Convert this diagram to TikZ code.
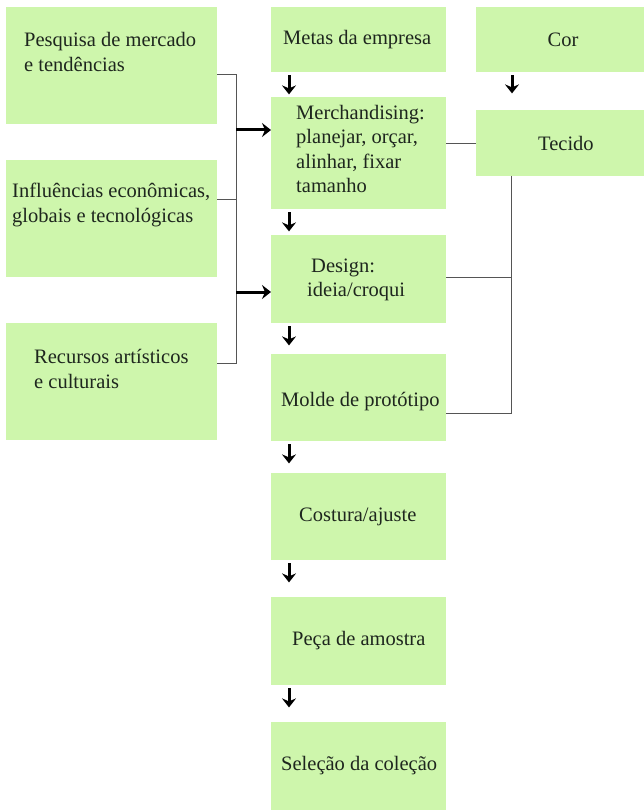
\documentclass[tikz,border=0pt]{standalone}
\usepackage{fontspec}
\setmainfont{Liberation Serif}
\usetikzlibrary{arrows.meta,calc}
\definecolor{boxg}{RGB}{206,246,172}
\definecolor{txt}{RGB}{30,38,30}
\definecolor{lin}{RGB}{85,85,85}
\tikzset{
  box/.style={fill=boxg,draw=none,inner sep=0pt,anchor=north west},
  lbl/.style={anchor=west,align=left,inner sep=0pt,text=txt,font=\fontsize{20.5}{24.5}\selectfont},
  conn/.style={draw=lin,line width=1pt},
  arr/.style={line width=3pt,-{Stealth[length=9pt,width=14pt,inset=3pt]}}
}
\begin{document}
\begin{tikzpicture}[x=1pt,y=-1pt]
\useasboundingbox (0,0) rectangle (644,810);
% left column
\node[box,minimum width=211pt,minimum height=117pt] (L1) at (6,7) {};
\node[box,minimum width=211pt,minimum height=117pt] (L2) at (6,160) {};
\node[box,minimum width=211pt,minimum height=117pt] (L3) at (6,323) {};
% middle column
\node[box,minimum width=175pt,minimum height=65pt] (M1) at (271,7) {};
\node[box,minimum width=175pt,minimum height=112pt] (M2) at (271,97) {};
\node[box,minimum width=175pt,minimum height=88pt] (M3) at (271,235) {};
\node[box,minimum width=175pt,minimum height=87pt] (M4) at (271,354) {};
\node[box,minimum width=175pt,minimum height=87pt] (M5) at (271,473) {};
\node[box,minimum width=175pt,minimum height=88pt] (M6) at (271,597) {};
\node[box,minimum width=175pt,minimum height=88pt] (M7) at (271,722) {};
% right column
\node[box,minimum width=168pt,minimum height=65pt] (R1) at (476,7) {};
\node[box,minimum width=168pt,minimum height=66pt] (R2) at (476,110) {};
% labels
\node[lbl] (t1) at (24,52) {Pesquisa de mercado\\e tendências};
\node[lbl] (t2) at (12,205) {Influências econômicas,\\globais e tecnológicas};
\node[lbl] (t3) at (34,369) {Recursos artísticos\\e culturais};
\node[lbl] (t4) at (283,40) {Metas da empresa};
\node[lbl] (t5) at (296,149) {Merchandising:\\planejar, orçar,\\alinhar, fixar\\tamanho};
\node[lbl] (t6a) at (311,268) {Design:};
\node[lbl] (t6b) at (307,292) {ideia/croqui};
\node[lbl] (t7) at (281,402) {Molde de protótipo};
\node[lbl] (t8) at (299,517) {Costura/ajuste};
\node[lbl] (t9) at (292,641) {Peça de amostra};
\node[lbl] (t10) at (281,766) {Seleção da coleção};
\node[lbl,anchor=center] (t11) at (563,40) {Cor};
\node[lbl] (t12) at (538,143) {Tecido};
% left bus
\coordinate (b1) at (236,75);
\coordinate (b2) at (236,200);
\coordinate (b3) at (236,363);
\coordinate (a1) at (236,130);
\coordinate (a2) at (236,292);
\draw[conn] (L1.east |- b1) -- (b1) -- (b3) -- (L3.east |- b3);
\draw[conn] (L2.east |- b2) -- (b2);
\draw[arr] (a1) -- (M2.west |- a1);
\draw[arr] (a2) -- (M3.west |- a2);
% right bus
\coordinate (c0) at (511,176);
\coordinate (c1) at (511,277);
\coordinate (c2) at (511,413);
\draw[conn] (M2.east |- R2.west) -- (R2.west);
\draw[conn] (c0) -- (c2) -- (M4.east |- c2);
\draw[conn] (M3.east |- c1) -- (c1);
% down arrows
\foreach \a in {M1,M2,M3,M4,M5,M6}{
  \draw[arr] ($(\a.south west)+(18,3)$) -- ($(\a.south west)+(18,22)$);
}
\draw[arr] ($(R1.south west)+(36,3)$) -- ($(R1.south west)+(36,21)$);
\end{tikzpicture}
\end{document}
